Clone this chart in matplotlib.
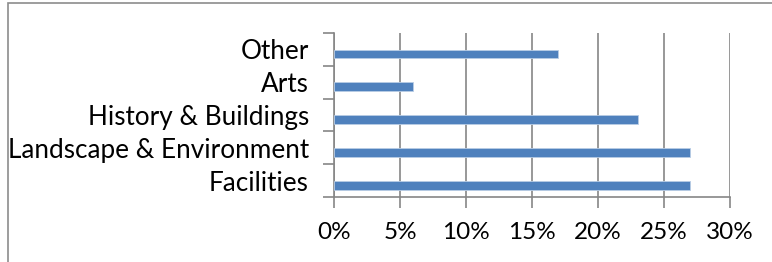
import matplotlib.pyplot as plt
import numpy as np
from matplotlib.patches import Rectangle
from matplotlib.ticker import FuncFormatter

categories = ['Facilities', 'Landscape & Environment', 'History & Buildings',
              'Arts', 'Other']
shares = [27, 27, 23, 6, 17]
x_ticks = [0, 5, 10, 15, 20, 25, 30]

plt.rcParams['font.family'] = ['Lato', 'DejaVu Sans']

fig = plt.figure(figsize=(7.72, 2.62), dpi=100)
ax = fig.add_axes([0.4326, 0.248, 0.513, 0.626])

# outer chart frame, cut off on the right and bottom
fig.patches.append(Rectangle((8 / 772, -0.1), 1.2, 1.1 - 3 / 262,
                             transform=fig.transFigure, fill=False,
                             edgecolor='#8c8c8c', linewidth=1.2, clip_on=False))

y = np.arange(len(categories))
ax.barh(y - 0.14, shares, height=0.27, color='#4f81bd',
        edgecolor='#b9cde5', linewidth=0.6, zorder=3)

ax.set_xlim(0, 30)
ax.set_ylim(-0.5, len(categories) - 0.5)
ax.set_xticks(x_ticks)
ax.xaxis.set_major_formatter(FuncFormatter(lambda v, p: f'{v:.0f}%'))
ax.grid(axis='x', color='#868686', linewidth=1.2, zorder=0)

ax.set_yticks(y)
ax.set_yticklabels(categories)
ax.set_yticks(np.arange(len(categories) + 1) - 0.5, minor=True)
ax.tick_params(axis='y', which='major', length=0, pad=18, labelsize=18.8)
ax.tick_params(axis='y', which='minor', length=8, width=1.2, color='#868686')
ax.tick_params(axis='x', length=8, width=1.2, color='#868686', pad=10,
               labelsize=17.5)

for side in ['top', 'right']:
    ax.spines[side].set_visible(False)
for side in ['left', 'bottom']:
    ax.spines[side].set_color('#868686')
    ax.spines[side].set_linewidth(1.2)

fig.savefig('out.png', dpi=100)
